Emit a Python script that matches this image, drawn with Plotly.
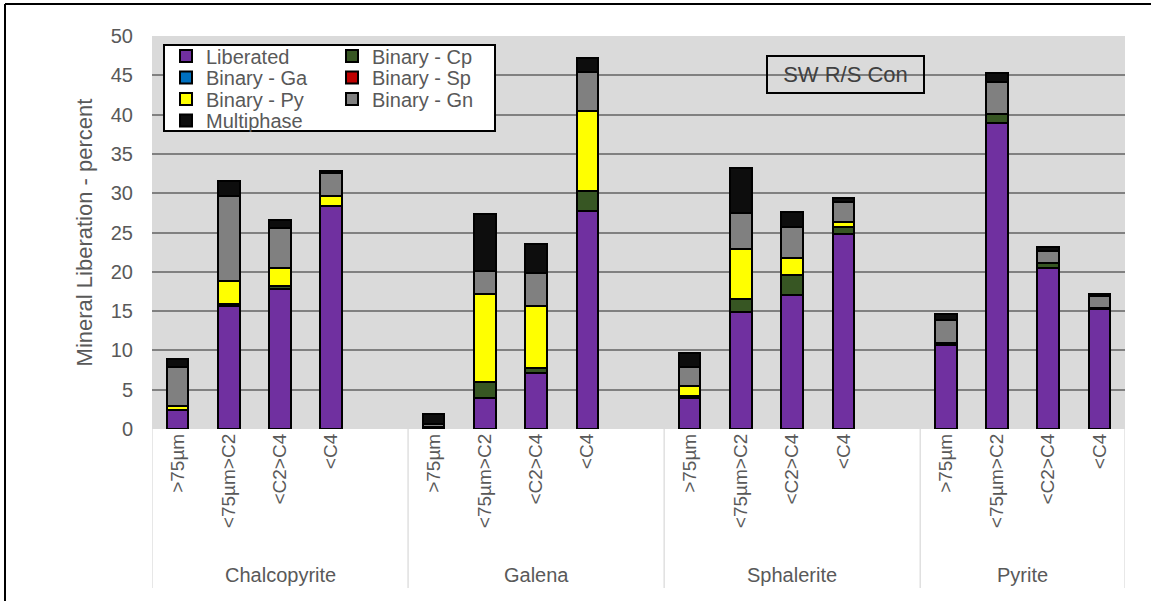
import plotly.graph_objects as go

groups = ["Chalcopyrite", "Galena", "Sphalerite", "Pyrite"]
size_classes = [">75µm", "<75µm>C2", "<C2>C4", "<C4"]
yticks = [0, 5, 10, 15, 20, 25, 30, 35, 40, 45, 50]

liberated = [2.4, 15.6, 17.8, 28.4, 0.2, 4.0, 7.1, 27.7, 3.9, 14.9, 17.0, 24.8, 10.7, 38.9, 20.5, 15.3]
binary_cp = [0, 0.3, 0.4, 0, 0, 2.0, 0.7, 2.6, 0.3, 1.7, 2.6, 0.9, 0.3, 1.2, 0.6, 0.1]
binary_ga = [0, 0, 0, 0, 0, 0, 0, 0, 0, 0, 0, 0, 0, 0, 0, 0]
binary_sp = [0, 0, 0, 0, 0, 0, 0, 0, 0, 0, 0, 0, 0, 0, 0, 0]
binary_py = [0.5, 2.9, 2.3, 1.3, 0, 11.2, 7.8, 10.1, 1.3, 6.3, 2.2, 0.6, 0, 0, 0, 0]
binary_gn = [5.0, 10.8, 5.1, 2.9, 0.5, 2.9, 4.3, 5.0, 2.4, 4.6, 3.9, 2.6, 2.9, 4.0, 1.5, 1.5]
multiphase = [1.0, 1.9, 1.0, 0.2, 1.2, 7.2, 3.7, 1.8, 1.8, 5.7, 1.9, 0.5, 0.7, 1.2, 0.6, 0.3]

series = [
    ("Liberated", liberated, "#7030A0", "legend"),
    ("Binary - Cp", binary_cp, "#375623", "legend"),
    ("Binary - Ga", binary_ga, "#0070C0", "legend2"),
    ("Binary - Sp", binary_sp, "#C00000", "legend2"),
    ("Binary - Py", binary_py, "#FFFF00", "legend3"),
    ("Binary - Gn", binary_gn, "#808080", "legend3"),
    ("Multiphase", multiphase, "#0D0D0D", "legend4"),
]

SLOTS = 5  # each mineral group takes 5 slots (4 size classes + gap)
xpos = []
xlabels = []
for g in range(len(groups)):
    for j, lab in enumerate(size_classes):
        xpos.append(g * SLOTS + j)
        xlabels.append(lab)
n_slots = (len(groups) - 1) * SLOTS + len(size_classes)

GREY = "#595959"
FONT = "Liberation Sans, Arial, sans-serif"

fig = go.Figure()
for name, vals, col, lg in series:
    fig.add_trace(go.Bar(
        x=xpos, y=[v if v else None for v in vals], name=name,
        width=0.42, marker=dict(color=col, line=dict(color="#000000", width=2)),
        legend=lg, showlegend=True,
    ))

# plot area in pixels: x 152..1125, y 36..429
L, R, T, B = 152, 1125, 36, 429
W, H = R - L, B - T
def px(xp):
    return (xp - L) / W
def py(yp):
    return (B - yp) / H

shapes = []
# legend box
shapes.append(dict(type="rect", xref="paper", yref="paper", x0=px(164), x1=px(495), y0=py(131), y1=py(45),
                   fillcolor="white", line=dict(color="black", width=2), layer="above"))
# group dividers
for k in range(len(groups) + 1):
    xd = -0.5 + k * SLOTS if k < len(groups) else n_slots - 0.5
    shapes.append(dict(type="line", xref="x", yref="paper", x0=xd, x1=xd, y0=0, y1=py(588),
                       line=dict(color="#D0D0D0", width=1)))
# outer frame (top + left)
shapes.append(dict(type="line", xref="paper", yref="paper", x0=px(5), x1=px(1151), y0=py(4), y1=py(4),
                   line=dict(color="black", width=2)))
shapes.append(dict(type="line", xref="paper", yref="paper", x0=px(5), x1=px(5), y0=py(4), y1=py(610),
                   line=dict(color="black", width=2)))

annotations = []
for g, name in enumerate(groups):
    cx = g * SLOTS + (len(size_classes) - 1) / 2 if g == len(groups) - 1 else g * SLOTS + 2
    annotations.append(dict(text=name, x=cx, xref="x", y=py(575), yref="paper", showarrow=False,
                            xanchor="center", yanchor="middle",
                            font=dict(family=FONT, size=20, color=GREY)))
annotations.append(dict(text="SW R/S Con", x=px(845.5), y=py(74.5), xref="paper", yref="paper",
                        xanchor="center", yanchor="middle",
                        showarrow=False, font=dict(family=FONT, size=22, color="#404040"),
                        bordercolor="black", borderwidth=2, borderpad=2, width=151, height=31,
                        bgcolor="rgba(0,0,0,0)"))

legend_rows_y = [56, 77.5, 99, 120.5]
leg_common = dict(orientation="h", xref="paper", yref="paper", x=px(166), xanchor="left",
                  yanchor="middle", bgcolor="rgba(0,0,0,0)", borderwidth=0,
                  font=dict(family=FONT, size=20, color=GREY), entrywidth=121,
                  entrywidthmode="pixels", itemwidth=30, traceorder="normal")

fig.update_layout(
    width=1151, height=601,
    margin=dict(l=L, r=1151 - R, t=T, b=601 - B),
    paper_bgcolor="white", plot_bgcolor="#DADADA",
    barmode="stack",
    font=dict(family=FONT, color=GREY),
    xaxis=dict(range=[-0.5, n_slots - 0.5], tickmode="array", tickvals=xpos, ticktext=xlabels,
               tickangle=-90, tickfont=dict(family=FONT, size=19, color=GREY),
               showgrid=False, zeroline=False, showline=False, ticks=""),
    yaxis=dict(range=[0, 50], tickmode="array", tickvals=yticks, showgrid=True,
               gridcolor="#808080", gridwidth=2, zeroline=False, showline=False,
               tickfont=dict(family=FONT, size=20, color=GREY), ticklabelstandoff=18,
               title=dict(text="Mineral Liberation - percent", standoff=12,
                          font=dict(family=FONT, size=22, color=GREY))),
    legend=dict(**leg_common, y=py(legend_rows_y[0])),
    legend2=dict(**leg_common, y=py(legend_rows_y[1])),
    legend3=dict(**leg_common, y=py(legend_rows_y[2])),
    legend4=dict(**leg_common, y=py(legend_rows_y[3])),
    shapes=shapes,
    annotations=annotations,
)

fig.write_html("out.html", config={"displayModeBar": False},
               post_script="document.body.style.margin='0';document.body.style.overflow='hidden';")
